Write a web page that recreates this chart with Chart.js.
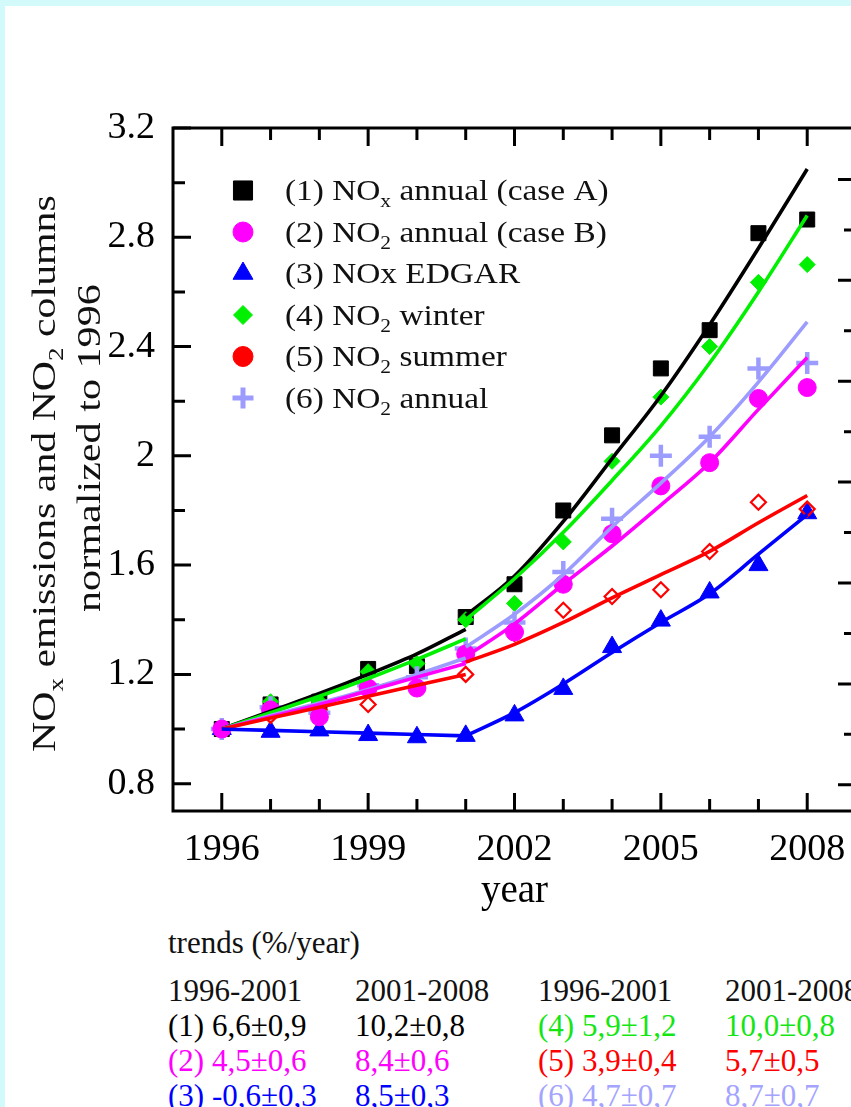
<!DOCTYPE html>
<html lang="en">
<head>
<meta charset="utf-8">
<title>NOx trends 1996-2008</title>
<script src="https://cdn.jsdelivr.net/npm/chart.js@4/dist/chart.umd.min.js"></script>
<style>
    html, body { margin: 0; padding: 0; }
    body {
        position: relative;
        width: 851px;
        height: 1107px;
        overflow: hidden;
        background: #d2fafa;
        font-family: "Liberation Serif", "Times New Roman", serif;
    }
    .sheet { position: absolute; left: 5px; top: 6px; width: 900px; height: 1150px; background: #fff; }
    .plot-wrap { position: absolute; left: 0; top: 0; width: 900px; height: 915px; }
    .trend-cell { position: absolute; font-size: 31px; line-height: 35px; white-space: nowrap; }
</style>
</head>
<body>
<div class="sheet"></div>
<div class="plot-wrap"><canvas id="noxChart"></canvas></div>
<div id="trends"></div>
<script>
const years = [1996, 1997, 1998, 1999, 2000, 2001, 2002, 2003, 2004, 2005, 2006, 2007, 2008];
const earlyYears = years.slice(0, 6);   // 1996-2001
const lateYears = years.slice(5);       // 2001-2008

const xLabelYears = [1996, 1999, 2002, 2005, 2008];
const yLabelValues = [0.8, 1.2, 1.6, 2, 2.4, 2.8, 3.2];
const yMinorValues = [1.0, 1.4, 1.8, 2.2, 2.6, 3.0];
const rightMajorValues = [1, 2, 3, 4, 5, 6, 7];
const rightMinorValues = [1.5, 2.5, 3.5, 4.5, 5.5, 6.5];

// yearly values, normalized to 1996
const noxCaseA = [1.00, 1.09, 1.10, 1.22, 1.23, 1.41, 1.53, 1.80, 2.075, 2.32, 2.46, 2.815, 2.865];
const no2CaseB = [1.00, 1.07, 1.045, 1.15, 1.15, 1.275, 1.355, 1.53, 1.715, 1.89, 1.975, 2.21, 2.25];
const noxEdgar = [1.00, 0.99, 0.995, 0.978, 0.97, 0.975, 1.05, 1.147, 1.30, 1.397, 1.50, 1.60, 1.79];
const no2Winter = [1.00, 1.10, 1.10, 1.21, 1.24, 1.40, 1.46, 1.685, 1.98, 2.215, 2.40, 2.635, 2.70];
const no2Summer = [1.00, 1.05, 1.07, 1.09, 1.15, 1.20, 1.35, 1.435, 1.485, 1.51, 1.65, 1.83, 1.805];
const no2Annual = [1.00, 1.08, 1.06, 1.16, 1.19, 1.295, 1.39, 1.575, 1.77, 2.00, 2.07, 2.32, 2.34];

// fitted trend curves, one piece per period
const noxCaseAFitEarly = [1.00, 1.065, 1.13, 1.20, 1.275, 1.365];
const noxCaseAFitLate = [1.415, 1.56, 1.76, 1.99, 2.22, 2.48, 2.76, 3.05];
const no2CaseBFitEarly = [1.00, 1.045, 1.09, 1.14, 1.19, 1.24];
const no2CaseBFitLate = [1.265, 1.385, 1.53, 1.67, 1.82, 1.975, 2.17, 2.36];
const noxEdgarFitEarly = [1.00, 0.995, 0.99, 0.985, 0.98, 0.975];
const noxEdgarFitLate = [0.975, 1.06, 1.165, 1.28, 1.39, 1.495, 1.64, 1.785];
const no2WinterFitEarly = [1.00, 1.06, 1.12, 1.185, 1.255, 1.33];
const no2WinterFitLate = [1.40, 1.55, 1.72, 1.91, 2.11, 2.34, 2.60, 2.88];
const no2SummerFitEarly = [1.00, 1.04, 1.08, 1.12, 1.16, 1.20];
const no2SummerFitLate = [1.245, 1.31, 1.39, 1.48, 1.565, 1.65, 1.755, 1.855];
const no2AnnualFitEarly = [1.00, 1.05, 1.095, 1.145, 1.20, 1.26];
const no2AnnualFitLate = [1.30, 1.42, 1.565, 1.74, 1.90, 2.07, 2.27, 2.49];

// trend table (%/year)
const trendPeriods = ['1996-2001', '2001-2008'];
const trendIds = ['(1)', '(2)', '(3)', '(4)', '(5)', '(6)'];
const trendEarly = ['6,6±0,9', '4,5±0,6', '-0,6±0,3', '5,9±1,2', '3,9±0,4', '4,7±0,7'];
const trendLate = ['10,2±0,8', '8,4±0,6', '8,5±0,3', '10,0±0,8', '5,7±0,5', '8,7±0,7'];

// "_x" = one subscript character
const series = [
    { label: '(1) NO_x annual (case A)', values: noxCaseA, fitEarly: noxCaseAFitEarly, fitLate: noxCaseAFitLate,
      color: '#000000', text: '#000000', style: 'rect', radius: 10.6, fill: true, border: 1,
      legend: { style: 'rect', radius: 13.5, fill: true, border: 1 } },
    { label: '(2) NO_2 annual (case B)', values: no2CaseB, fitEarly: no2CaseBFitEarly, fitLate: no2CaseBFitLate,
      color: '#ff00ff', text: '#ff00ff', style: 'circle', radius: 9, fill: true, border: 1,
      legend: { style: 'circle', radius: 10, fill: true, border: 1 } },
    { label: '(3) NOx EDGAR', values: noxEdgar, fitEarly: noxEdgarFitEarly, fitLate: noxEdgarFitLate,
      color: '#0000ff', text: '#0000ff', style: 'triangle', radius: 11, fill: true, border: 1,
      legend: { style: 'triangle', radius: 11.5, fill: true, border: 1 } },
    { label: '(4) NO_2 winter', values: no2Winter, fitEarly: no2WinterFitEarly, fitLate: no2WinterFitLate,
      color: '#00f000', text: '#14e614', style: 'rectRot', radius: 8, fill: true, border: 1,
      legend: { style: 'rectRot', radius: 9.5, fill: true, border: 1 } },
    { label: '(5) NO_2 summer', values: no2Summer, fitEarly: no2SummerFitEarly, fitLate: no2SummerFitLate,
      color: '#ff0000', text: '#ff0000', style: 'rectRot', radius: 7.5, fill: false, border: 2.2,
      legend: { style: 'circle', radius: 10, fill: true, border: 1 } },
    { label: '(6) NO_2 annual', values: no2Annual, fitEarly: no2AnnualFitEarly, fitLate: no2AnnualFitLate,
      color: '#9c9cff', text: '#a4a4ff', style: 'cross', radius: 11, fill: false, border: 4.5,
      legend: { style: 'cross', radius: 10.5, fill: false, border: 5 } }
];

// draw markers bottom-up in this order, magenta ends on top
const markerOrder = [0, 3, 2, 4, 5, 1];
const fitOrder = [0, 3, 5, 1, 4, 2];

const FONT = '"Liberation Serif", "Times New Roman", serif';
Chart.defaults.font.family = FONT;
Chart.defaults.color = '#000';

function toPoints(xs, ys) {
    return xs.map((x, i) => ({ x, y: ys[i] }));
}

function drawRichText(ctx, text, size, stretch) {
    ctx.save();
    ctx.scale(stretch, 1);
    let cursor = 0;
    text.split(/(_.)/).filter(Boolean).forEach((part) => {
        const sub = part.startsWith('_');
        const str = sub ? part.slice(1) : part;
        ctx.font = `${sub ? Math.round(size * 0.64) : size}px ${FONT}`;
        ctx.fillText(str, cursor, sub ? size * 0.24 : 0);
        cursor += ctx.measureText(str).width;
    });
    ctx.restore();
}

const inwardTicks = {
    id: 'inwardTicks',
    afterDraw(chart) {
        const { ctx, chartArea: { left, right, top, bottom }, scales: { x, y, y2 } } = chart;
        const major = 18;
        const minor = 12;
        ctx.save();
        ctx.strokeStyle = '#000';
        ctx.lineWidth = 3;
        ctx.beginPath();
        years.forEach((yr) => {
            const px = x.getPixelForValue(yr);
            const len = xLabelYears.includes(yr) ? major : minor;
            ctx.moveTo(px, bottom);
            ctx.lineTo(px, bottom - len);
            ctx.moveTo(px, top);
            ctx.lineTo(px, top + len);
        });
        yLabelValues.forEach((v) => {
            const py = y.getPixelForValue(v);
            ctx.moveTo(left, py);
            ctx.lineTo(left + major, py);
        });
        yMinorValues.forEach((v) => {
            const py = y.getPixelForValue(v);
            ctx.moveTo(left, py);
            ctx.lineTo(left + minor, py);
        });
        rightMajorValues.forEach((v) => {
            const py = y2.getPixelForValue(v);
            ctx.moveTo(right, py);
            ctx.lineTo(right - major, py);
        });
        rightMinorValues.forEach((v) => {
            const py = y2.getPixelForValue(v);
            ctx.moveTo(right, py);
            ctx.lineTo(right - minor, py);
        });
        ctx.stroke();
        ctx.strokeRect(left, top, right - left, bottom - top);
        ctx.restore();
    }
};

const richLabels = {
    id: 'richLabels',
    afterDraw(chart) {
        const { ctx } = chart;
        ctx.save();
        ctx.textBaseline = 'alphabetic';
        ctx.textAlign = 'left';

        // legend
        series.forEach((s, i) => {
            const cy = 190.5 + i * 41.5;
            const m = s.legend;
            ctx.fillStyle = m.fill ? s.color : 'rgba(0,0,0,0)';
            ctx.strokeStyle = s.color;
            ctx.lineWidth = m.border;
            Chart.helpers.drawPoint(ctx, { pointStyle: m.style, rotation: 0, radius: m.radius, borderWidth: m.border }, 243, cy);
            ctx.fillStyle = '#111';
            ctx.save();
            ctx.translate(285, cy + 9.5);
            drawRichText(ctx, s.label, 29.5, 1.13);
            ctx.restore();
        });

        // y-axis title, two rotated lines
        ctx.fillStyle = '#111';
        ctx.save();
        ctx.translate(55, 752);
        ctx.rotate(-Math.PI / 2);
        drawRichText(ctx, 'NO_x emissions and NO_2 columns', 34, 1.23);
        ctx.restore();
        ctx.save();
        ctx.translate(100, 612);
        ctx.rotate(-Math.PI / 2);
        drawRichText(ctx, 'normalized to 1996', 34, 1.24);
        ctx.restore();

        ctx.restore();
    }
};

function buildDatasets() {
    const markers = markerOrder.map((idx, k) => {
        const s = series[idx];
        return {
            label: s.label,
            data: toPoints(years, s.values),
            showLine: false,
            pointStyle: s.style,
            pointRadius: s.radius,
            pointBackgroundColor: s.fill ? s.color : 'rgba(0,0,0,0)',
            pointBorderColor: s.color,
            pointBorderWidth: s.border,
            order: 20 - k
        };
    });
    const fits = [];
    fitOrder.forEach((idx, k) => {
        const s = series[idx];
        [[earlyYears, s.fitEarly], [lateYears, s.fitLate]].forEach(([xs, ys]) => {
            fits.push({
                label: `${s.label} fit`,
                data: toPoints(xs, ys),
                showLine: true,
                borderColor: s.color,
                borderWidth: 3.6,
                cubicInterpolationMode: 'monotone',
                pointRadius: 0,
                order: 10 - k
            });
        });
    });
    return [...markers, ...fits];
}

function renderChart() {
    const ctx = document.getElementById('noxChart').getContext('2d');
    new Chart(ctx, {
        type: 'scatter',
        data: { datasets: buildDatasets() },
        options: {
            responsive: true,
            maintainAspectRatio: false,
            animation: false,
            events: [],
            layout: { padding: { top: 128, left: 0, right: 0, bottom: 0 } },
            scales: {
                x: {
                    type: 'linear',
                    position: 'bottom',
                    min: 1995,
                    max: 2009,
                    afterBuildTicks: (scale) => { scale.ticks = xLabelYears.map((value) => ({ value })); },
                    afterFit: (scale) => { scale.height = 104; },
                    grid: { display: false },
                    border: { display: false },
                    ticks: { padding: 8, maxRotation: 0, font: { size: 38 }, color: '#000', callback: (v) => String(v) },
                    title: { display: true, text: 'year', font: { size: 39 }, color: '#000', padding: 0 }
                },
                y: {
                    type: 'linear',
                    position: 'left',
                    min: 0.7,
                    max: 3.2,
                    afterBuildTicks: (scale) => { scale.ticks = yLabelValues.map((value) => ({ value })); },
                    afterFit: (scale) => { scale.width = 173; },
                    grid: { display: false },
                    border: { display: false },
                    ticks: { padding: 10, font: { size: 38 }, color: '#000', callback: (v) => String(v) }
                },
                y2: {
                    type: 'linear',
                    position: 'right',
                    min: 0.74,
                    max: 7.51,
                    afterFit: (scale) => { scale.width = 44; },
                    grid: { display: false },
                    border: { display: false },
                    ticks: { display: false }
                }
            },
            plugins: {
                legend: { display: false },
                tooltip: { enabled: false }
            }
        },
        plugins: [inwardTicks, richLabels]
    });
}

function renderTrends() {
    const box = document.getElementById('trends');
    const cell = (text, left, centerY, color) => {
        const el = document.createElement('div');
        el.className = 'trend-cell';
        el.textContent = text;
        el.style.left = `${left}px`;
        el.style.top = `${centerY - 17.5}px`;
        el.style.color = color;
        box.appendChild(el);
    };
    cell('trends (%/year)', 168, 942, '#111');
    const blockLeft = [168, 538];
    blockLeft.forEach((left) => {
        cell(trendPeriods[0], left, 990, '#111');
        cell(trendPeriods[1], left + 187, 990, '#111');
    });
    series.forEach((s, i) => {
        const left = blockLeft[Math.floor(i / 3)];
        const cy = 1025 + (i % 3) * 35;
        cell(`${trendIds[i]} ${trendEarly[i]}`, left, cy, s.text);
        cell(trendLate[i], left + 187, cy, s.text);
    });
}

renderChart();
renderTrends();
</script>
</body>
</html>
